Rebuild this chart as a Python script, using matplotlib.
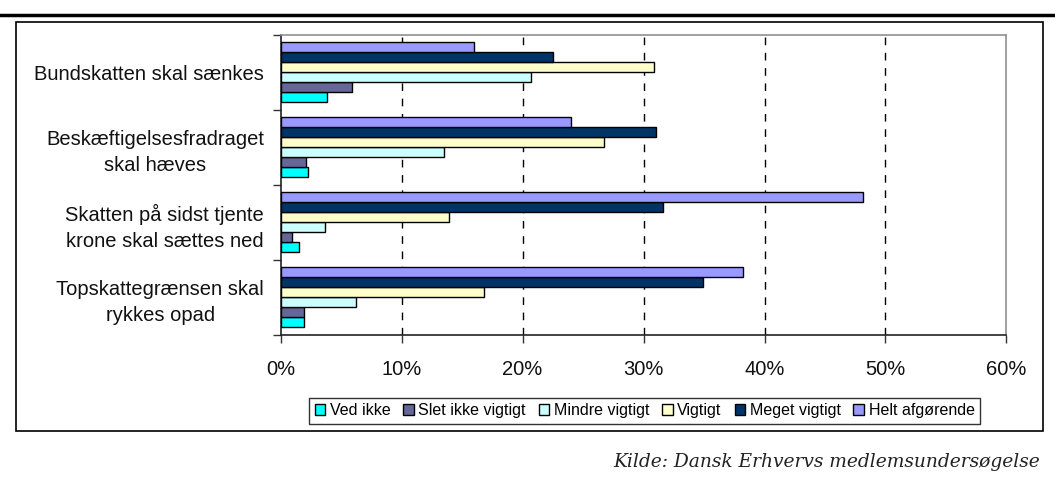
import matplotlib.pyplot as plt
from matplotlib.patches import Rectangle, Patch
from matplotlib.lines import Line2D
import numpy as np

plt.rcParams['font.family'] = ['Liberation Sans', 'DejaVu Sans']

# Data
kategorier = ['Bundskatten skal sænkes',
              'Beskæftigelsesfradraget\nskal hæves',
              'Skatten på sidst tjente\nkrone skal sættes ned',
              'Topskattegrænsen skal\nrykkes opad']
serier = ['Ved ikke', 'Slet ikke vigtigt', 'Mindre vigtigt', 'Vigtigt', 'Meget vigtigt', 'Helt afgørende']
ved_ikke = [3.8, 2.3, 1.5, 1.9]
slet_ikke = [5.9, 2.1, 0.9, 1.9]
mindre = [20.7, 13.5, 3.7, 6.2]
vigtigt = [30.9, 26.7, 13.9, 16.8]
meget = [22.5, 31.0, 31.6, 34.9]
helt = [16.0, 24.0, 48.1, 38.2]
farver = ['#00FFFF', '#666699', '#CCFFFF', '#FFFFCC', '#003366', '#9999FF']

vaerdier = [ved_ikke, slet_ikke, mindre, vigtigt, meget, helt]

fig = plt.figure(figsize=(10.55, 4.84), dpi=100)
ax = fig.add_axes([0.266, 0.308, 0.688, 0.620])

# Grouped horizontal bars, "Helt afgørende" on top of each group
n = len(serier)
h = 0.8 / n
for j, (navn, v, c) in enumerate(zip(serier, vaerdier, farver)):
    pos = np.arange(len(kategorier)) + 0.1 + (n - 1 - j + 0.5) * h
    ax.barh(pos, v, height=h, color=c, edgecolor='black', linewidth=1.0, label=navn, zorder=3)

ax.set_ylim(4, 0)
ax.set_xlim(0, 60)

# Category labels centered in each group, tick marks at the group borders
ax.set_yticks(np.arange(4) + 0.5)
ax.set_yticklabels(kategorier, fontsize=14.5, multialignment='center', color='#111111',
                   linespacing=1.45)
ax.tick_params(axis='y', which='major', length=0, pad=12)
ax.set_yticks(np.arange(5), minor=True)
ax.tick_params(axis='y', which='minor', length=6, width=1, direction='out', color='#333333')

ax.set_xticks(np.arange(0, 61, 10))
ax.set_xticklabels([f'{t}%' for t in range(0, 61, 10)], fontsize=14.5, color='#111111')
ax.tick_params(axis='x', length=6, width=1, direction='out', pad=12, color='#333333')

# Dashed vertical gridlines
for t in range(10, 60, 10):
    ax.axvline(t, color='black', linestyle=(0, (5.5, 5.5)), linewidth=1.0, zorder=1)

ax.spines['top'].set_color('#909090')
ax.spines['right'].set_color('#909090')
ax.spines['left'].set_color('#222222')
ax.spines['bottom'].set_color('#222222')
for s in ax.spines.values():
    s.set_linewidth(1.2)

# Legend below the plot
handles = [Patch(facecolor=c, edgecolor='black', linewidth=1.0) for c in farver]
leg = fig.legend(handles, serier, loc='center', bbox_to_anchor=(0.611, 0.151), ncol=6,
                 fontsize=11.5, frameon=True, fancybox=False, edgecolor='black',
                 handlelength=0.65, handleheight=0.65, handletextpad=0.3, columnspacing=0.8,
                 borderpad=0.35, borderaxespad=0)
leg.get_frame().set_linewidth(1.0)

# Outer frame and top rule
fig.add_artist(Rectangle((16 / 1055, 1 - 431 / 484), (1043 - 16) / 1055, (431 - 22) / 484,
                         transform=fig.transFigure, fill=False, edgecolor='black', linewidth=1.2))
fig.add_artist(Line2D([0, 1], [1 - 15 / 484, 1 - 15 / 484], transform=fig.transFigure,
                      color='black', linewidth=2.5))

fig.text(1040 / 1055, 1 - 462 / 484, 'Kilde: Dansk Erhvervs medlemsundersøgelse',
         ha='right', va='center', fontsize=13.4, style='italic',
         family=['DejaVu Serif'], color='#222222')

fig.savefig('out.png', dpi=100)
